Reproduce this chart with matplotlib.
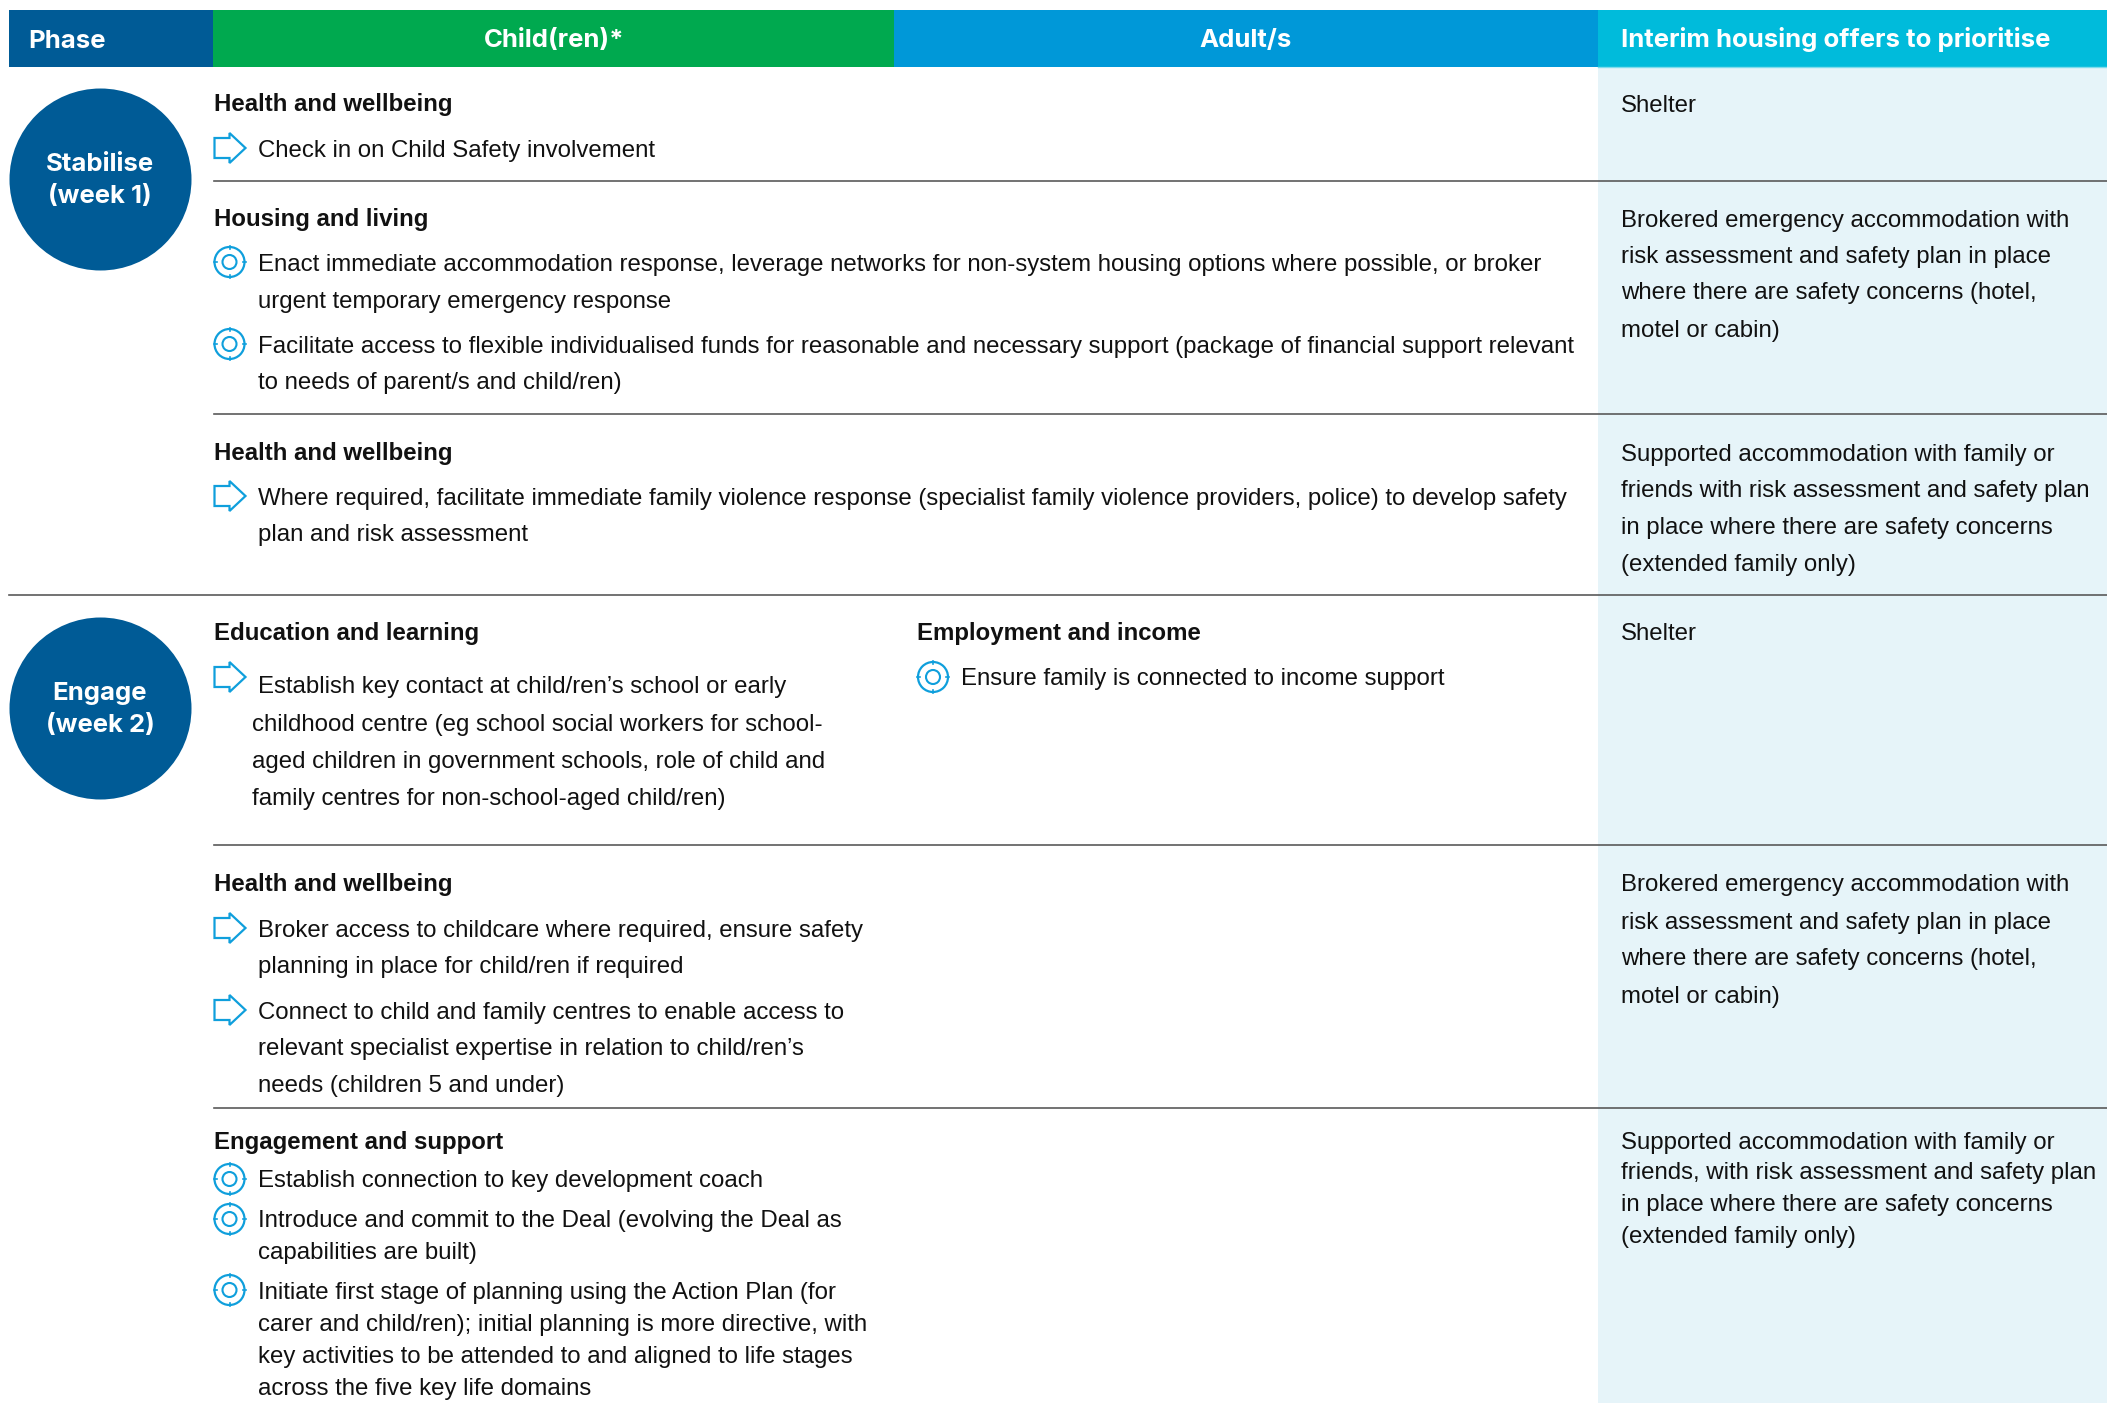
import matplotlib
matplotlib.use("Agg")
import matplotlib.pyplot as plt
from matplotlib.patches import Circle, Polygon, Rectangle


W, H = 2107, 1403

BODY_FONT = "Liberation Sans"
HEAD_FONT = "Inter"
BODY_SIZE = 17.3
HEAD_SIZE = 18.5

BLUE = "#005B96"
GREEN = "#00A94F"
MID_BLUE = "#0098D8"
CYAN = "#00BBDB"
PALE = "#E6F4F9"
ICON = "#0F9FDC"
RULE = "#5A5A5A"

# header
HEADERS = ["Phase", "Child(ren)*", "Adult/s", "Interim housing offers to prioritise"]
PHASES = ["Stabilise\n(week 1)", "Engage\n(week 2)"]

# section headings
HEADINGS = [
    "Health and wellbeing",
    "Housing and living",
    "Health and wellbeing",
    "Education and learning",
    "Employment and income",
    "Health and wellbeing",
    "Engagement and support",
]

# main column text, one entry per printed line
MAIN_LINES = [
    "Check in on Child Safety involvement",
    "Enact immediate accommodation response, leverage networks for non-system housing options where possible, or broker",
    "urgent temporary emergency response",
    "Facilitate access to flexible individualised funds for reasonable and necessary support (package of financial support relevant",
    "to needs of parent/s and child/ren)",
    "Where required, facilitate immediate family violence response (specialist family violence providers, police) to develop safety",
    "plan and risk assessment",
    "Broker access to childcare where required, ensure safety",
    "planning in place for child/ren if required",
    "Connect to child and family centres to enable access to",
    "relevant specialist expertise in relation to child/ren’s",
    "needs (children 5 and under)",
    "Establish connection to key development coach",
    "Introduce and commit to the Deal (evolving the Deal as",
    "capabilities are built)",
    "Initiate first stage of planning using the Action Plan (for",
    "carer and child/ren); initial planning is more directive, with",
    "key activities to be attended to and aligned to life stages",
    "across the five key life domains",
]

EDUCATION_LINES = [
    "Establish key contact at child/ren’s school or early",
    "childhood centre (eg school social workers for school-",
    "aged children in government schools, role of child and",
    "family centres for non-school-aged child/ren)",
]
INCOME_LINE = "Ensure family is connected to income support"

OFFER_LINES = [
    "Shelter",
    "Brokered emergency accommodation with",
    "risk assessment and safety plan in place",
    "where there are safety concerns (hotel,",
    "motel or cabin)",
    "Supported accommodation with family or",
    "friends with risk assessment and safety plan",
    "in place where there are safety concerns",
    "(extended family only)",
    "Shelter",
    "Brokered emergency accommodation with",
    "risk assessment and safety plan in place",
    "where there are safety concerns (hotel,",
    "motel or cabin)",
    "Supported accommodation with family or",
    "friends, with risk assessment and safety plan",
    "in place where there are safety concerns",
    "(extended family only)",
]

# layout, in reference pixels
TEXT_DY = 1.5
HEADING_POS = [(214, 103), (214, 218), (214, 452), (214, 632), (917, 632), (214, 883), (214, 1140.5)]
MAIN_Y = [149, 263.5, 300.5, 345, 382, 497, 534, 929, 965, 1011, 1047, 1084.5, 1179, 1219, 1251, 1291.5, 1323, 1355, 1387]
EDUCATION_POS = [(257.5, 685), (251.5, 723), (251.5, 760.5), (251.5, 797)]
OFFER_Y = [104, 219, 255, 292, 330, 453, 489, 526.5, 564, 632, 883, 921, 958, 995, 1141, 1172, 1204, 1236]
ARROW_Y = [148, 496, 677, 928, 1010]
TARGET_POS = [(229.5, 262), (229.5, 344), (933, 677), (229.5, 1179), (229.5, 1219), (229.5, 1290)]
RULES = [(214, 180.5), (214, 414), (9, 595), (214, 845), (214, 1107.5)]
CIRCLE_Y = [179.5, 708.5]


def put_text(ax, x, y, text, bold=False, **kw):
    ax.text(x, y + TEXT_DY, text, family=BODY_FONT, fontsize=BODY_SIZE,
            fontweight="bold" if bold else "normal", color="#111111",
            va="center", ha="left", **kw)


def draw_arrow(ax, cy, x0=214.5):
    pts = [(0, -10), (15, -10), (15, -15), (31, 0), (15, 15), (15, 10), (0, 10)]
    pts = [(x0 + px, cy + py) for px, py in pts]
    ax.add_patch(Polygon(pts, closed=True, fill=False, edgecolor=ICON, linewidth=1.6, zorder=3))


def draw_target(ax, cx, cy):
    ax.add_patch(Circle((cx, cy), 15, fill=False, edgecolor=ICON, linewidth=1.6, zorder=3))
    ax.add_patch(Circle((cx, cy), 7, fill=False, edgecolor=ICON, linewidth=1.5, zorder=3))
    for dx, dy in [(1, 0), (-1, 0), (0, 1), (0, -1)]:
        ax.plot([cx + dx * 13, cx + dx * 16], [cy + dy * 13, cy + dy * 16],
                color=ICON, linewidth=1.2, zorder=3)


def main():
    fig = plt.figure(figsize=(W / 100, H / 100), dpi=100)
    ax = fig.add_axes([0, 0, 1, 1])
    ax.set_xlim(0, W)
    ax.set_ylim(H, 0)
    ax.axis("off")

    # Pale offers column
    ax.add_patch(Rectangle((1598, 67), W - 1598, H - 67, color=PALE, linewidth=0, zorder=0))

    # Header band
    bands = [(9, 213, BLUE), (213, 894, GREEN), (894, 1598, MID_BLUE), (1598, W, CYAN)]
    for x0, x1, col in bands:
        ax.add_patch(Rectangle((x0, 10), x1 - x0, 57, color=col, linewidth=0, zorder=1))
    ax.plot([1598, W], [67, 67], color="#7FDCEC", linewidth=1, zorder=2)

    head_pos = [(28, 41, "left"), (554, 40, "center"), (1246, 40.5, "center"), (1621, 40, "left")]
    for label, (x, y, ha) in zip(HEADERS, head_pos):
        ax.text(x, y, label, family=HEAD_FONT, fontsize=HEAD_SIZE, fontweight="bold",
                color="white", ha=ha, va="center", zorder=4)

    # Phase circles
    for label, cy in zip(PHASES, CIRCLE_Y):
        ax.add_patch(Circle((100.5, cy), 91, color=BLUE, linewidth=0, zorder=2))
        ax.text(100, cy + 1, label, family=HEAD_FONT, fontsize=HEAD_SIZE, fontweight="bold",
                color="white", ha="center", va="center", linespacing=1.5, zorder=4)

    # Rules
    for x0, y in RULES:
        ax.plot([x0, W], [y, y], color=RULE, linewidth=1.2, zorder=2)

    # Text
    for text, (x, y) in zip(HEADINGS, HEADING_POS):
        put_text(ax, x, y, text, bold=True)
    for text, y in zip(MAIN_LINES, MAIN_Y):
        put_text(ax, 257.5, y, text)
    for text, (x, y) in zip(EDUCATION_LINES, EDUCATION_POS):
        put_text(ax, x, y, text)
    put_text(ax, 961, 677, INCOME_LINE)
    for text, y in zip(OFFER_LINES, OFFER_Y):
        put_text(ax, 1621, y, text)

    # Icons
    for y in ARROW_Y:
        draw_arrow(ax, y)
    for x, y in TARGET_POS:
        draw_target(ax, x, y)

    fig.savefig("out.png", dpi=100)
    plt.close(fig)


if __name__ == "__main__":
    main()
